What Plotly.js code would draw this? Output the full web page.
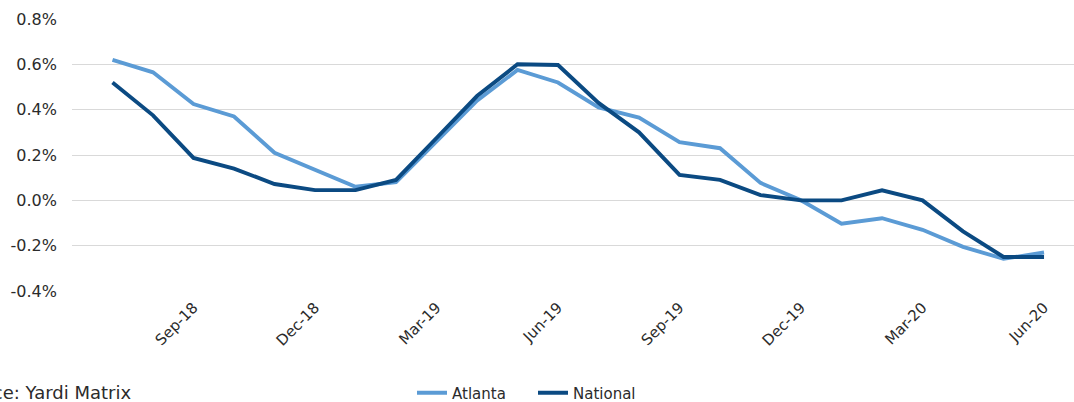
<!DOCTYPE html>
<html>
<head>
<meta charset="utf-8">
<script src="https://cdn.plot.ly/plotly-3.0.1.min.js"></script>
<style>html,body{margin:0;padding:0;background:#fff;}#chart{width:1074px;height:402px;}</style>
</head>
<body>
<div id="chart"></div>
<script>
const months = ['Jul-18','Aug-18','Sep-18','Oct-18','Nov-18','Dec-18','Jan-19','Feb-19','Mar-19','Apr-19','May-19','Jun-19','Jul-19','Aug-19','Sep-19','Oct-19','Nov-19','Dec-19','Jan-20','Feb-20','Mar-20','Apr-20','May-20','Jun-20'];
const atlanta = [0.62, 0.565, 0.425, 0.37, 0.21, 0.135, 0.06, 0.08, 0.26, 0.44, 0.575, 0.52, 0.41, 0.365, 0.257, 0.23, 0.077, 0.0, -0.103, -0.079, -0.13, -0.205, -0.258, -0.23];
const national = [0.52, 0.375, 0.187, 0.14, 0.072, 0.045, 0.045, 0.09, 0.275, 0.46, 0.60, 0.597, 0.43, 0.30, 0.112, 0.09, 0.023, 0.0, 0.0, 0.044, 0.0, -0.137, -0.25, -0.25];
const tickMonths = ['Sep-18','Dec-18','Mar-19','Jun-19','Sep-19','Dec-19','Mar-20','Jun-20'];
const yTicks = [-0.4, -0.2, 0.0, 0.2, 0.4, 0.6, 0.8];

const font = '"DejaVu Sans", sans-serif';
const txt = '#2b2b2b';
const traces = [
  {x: months, y: atlanta, name: 'Atlanta', type: 'scatter', mode: 'lines', legend: 'legend',
   line: {color: '#5b9bd5', width: 3.9}},
  {x: months, y: national, name: 'National', type: 'scatter', mode: 'lines', legend: 'legend2',
   line: {color: '#0b4a82', width: 3.9}}
];
const legBase = {orientation: 'h', yanchor: 'middle', xanchor: 'left', y: (291 - 393) / 272,
                 font: {family: font, size: 15, color: txt}, bgcolor: 'rgba(0,0,0,0)', itemwidth: 30};
const layout = {
  width: 1074, height: 402,
  margin: {l: 72, r: 0, t: 19, b: 111, autoexpand: false},
  paper_bgcolor: '#fff', plot_bgcolor: '#fff',
  font: {family: font, color: txt, size: 15},
  showlegend: true,
  legend: Object.assign({}, legBase, {x: (412 - 72) / 1002}),
  legend2: Object.assign({}, legBase, {x: (533 - 72) / 1002}),
  xaxis: {type: 'category', range: [-1, 23.74], tickvals: tickMonths, ticktext: tickMonths,
          tickangle: -45, showgrid: false, zeroline: false, showline: false, ticks: '', automargin: false,
          ticklabelstandoff: 4, tickfont: {family: font, size: 15, color: txt}},
  yaxis: {range: [-0.4, 0.8], tickvals: yTicks, ticktext: yTicks.map(v => v.toFixed(1) + '%'),
          showgrid: true, gridcolor: '#d9d9d9', gridwidth: 1, zeroline: true, zerolinecolor: '#d9d9d9',
          zerolinewidth: 1.5, showline: false, ticks: '', ticklabelstandoff: 14, automargin: false,
          tickfont: {family: font, size: 16, color: txt}},
  annotations: [{text: 'Source: Yardi Matrix', xref: 'paper', yref: 'paper',
                 x: (133 - 72) / 1002, y: (291 - 405) / 272, xanchor: 'right', yanchor: 'bottom',
                 showarrow: false, font: {family: font, size: 18, color: txt}}]
};
Plotly.newPlot('chart', traces, layout, {displayModeBar: false, staticPlot: true});
</script>
</body>
</html>
